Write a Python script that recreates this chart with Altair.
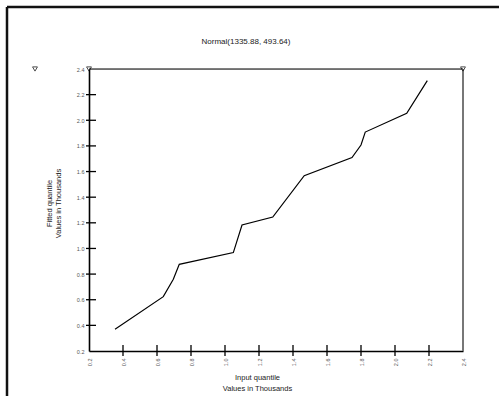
import altair as alt
import pandas as pd

# Q-Q points (values in thousands): input quantile vs fitted Normal quantile
input_q = [0.353, 0.637, 0.696, 0.731, 1.049, 1.100, 1.281, 1.466, 1.747, 1.800, 1.825, 2.069, 2.190]
fitted_q = [0.369, 0.624, 0.759, 0.876, 0.968, 1.183, 1.245, 1.568, 1.709, 1.807, 1.908, 2.054, 2.309]

tick_vals = [0.2, 0.4, 0.6, 0.8, 1.0, 1.2, 1.4, 1.6, 1.8, 2.0, 2.2, 2.4]
inner_ticks = [0.4, 0.6, 0.8, 1.0, 1.2, 1.4, 1.6, 1.8, 2.0, 2.2]
corner_marks = [2.4]

chart_title = "Normal(1335.88, 493.64)"
x_title = ["Input quantile", "Values in Thousands"]
y_title = ["Fitted quantile", "Values in Thousands"]

W, H = 374, 282
PAD_L, PAD_T = 89, 69
FONT = "Liberation Sans"
TEXT = "#222"

df = pd.DataFrame({"input": input_q, "fitted": fitted_q, "order": list(range(len(input_q)))})
ticks_df = pd.DataFrame({"input": inner_ticks, "fitted": inner_ticks})
corner_df = pd.DataFrame({"input": [0.2, 2.4], "fitted": corner_marks * 2})

xs = alt.Scale(domain=[0.2, 2.4], nice=False, zero=False)
ys = alt.Scale(domain=[0.2, 2.4], nice=False, zero=False)

x_axis = alt.Axis(
    values=tick_vals, format=".1f", labelAngle=270, labelFontSize=5.5, labelColor="#555",
    labelFont=FONT, labelPadding=7, ticks=False, tickSize=0, grid=False,
    domainColor="#000", domainWidth=1.6,
    title=x_title, titleFont=FONT, titleFontSize=7.5, titleFontWeight="normal", titleColor=TEXT,
    titleX=168, titleY=22, titleAlign="center", titleBaseline="top", titleLineHeight=11,
)
y_axis = alt.Axis(
    values=tick_vals, format=".1f", labelFontSize=5.5, labelColor="#555", labelFont=FONT,
    labelPadding=5, ticks=False, tickSize=0, grid=False,
    domainColor="#000", domainWidth=1.6,
    title=y_title, titleFont=FONT, titleFontSize=7.5, titleFontWeight="normal", titleColor=TEXT,
    titleAngle=270, titleX=-40, titleY=134, titleAlign="center", titleBaseline="middle",
    titleLineHeight=9,
)

X = alt.X("input:Q", scale=xs, axis=x_axis)
Y = alt.Y("fitted:Q", scale=ys, axis=y_axis)

line = alt.Chart(df).mark_line(color="#000", strokeWidth=1.2).encode(
    x=X, y=Y, order="order:Q",
)

x_ticks = alt.Chart(ticks_df).mark_rule(color="#000", strokeWidth=1.3).encode(
    x=X, y=alt.value(H - 6), y2=alt.value(H + 5)
)
y_ticks = alt.Chart(ticks_df).mark_rule(color="#000", strokeWidth=1.3).encode(
    y=Y, x=alt.value(-3), x2=alt.value(7)
)

top_edge = alt.Chart().mark_rule(color="#000", strokeWidth=1.2).encode(
    x=alt.value(0), x2=alt.value(W), y=alt.value(0)
)
right_edge = alt.Chart().mark_rule(color="#777", strokeWidth=2).encode(
    x=alt.value(W), y=alt.value(0), y2=alt.value(H)
)

corners = alt.Chart(corner_df).mark_point(
    shape="triangle-down", filled=False, color="#000", size=24, strokeWidth=1
).encode(x=X, y=Y)
side_marker = alt.Chart().mark_point(
    shape="triangle-down", filled=False, color="#000", size=24, strokeWidth=1
).encode(x=alt.value(35 - PAD_L), y=alt.value(0))

frame_top = alt.Chart().mark_rule(color="#111", strokeWidth=2.5).encode(
    x=alt.value(7 - PAD_L), x2=alt.value(520 - PAD_L), y=alt.value(7 - PAD_T)
)
frame_left = alt.Chart().mark_rule(color="#111", strokeWidth=2.5).encode(
    x=alt.value(7 - PAD_L), y=alt.value(7 - PAD_T), y2=alt.value(420 - PAD_T)
)

title = alt.Chart().mark_text(
    font=FONT, fontSize=8, color=TEXT, align="center", baseline="middle"
).encode(x=alt.value(246 - PAD_L), y=alt.value(42 - PAD_T), text=alt.value(chart_title))

chart = alt.layer(
    line, frame_top, frame_left, title, top_edge, right_edge, x_ticks, y_ticks, corners, side_marker
).properties(
    width=W, height=H,
    padding={"left": PAD_L, "top": PAD_T, "right": 499 - PAD_L - W, "bottom": 396 - PAD_T - H},
    autosize=alt.AutoSizeParams(type="none"),
).configure_view(stroke=None).configure(background="white")

chart.save("out.html", embed_options={"renderer": "svg", "actions": False})
